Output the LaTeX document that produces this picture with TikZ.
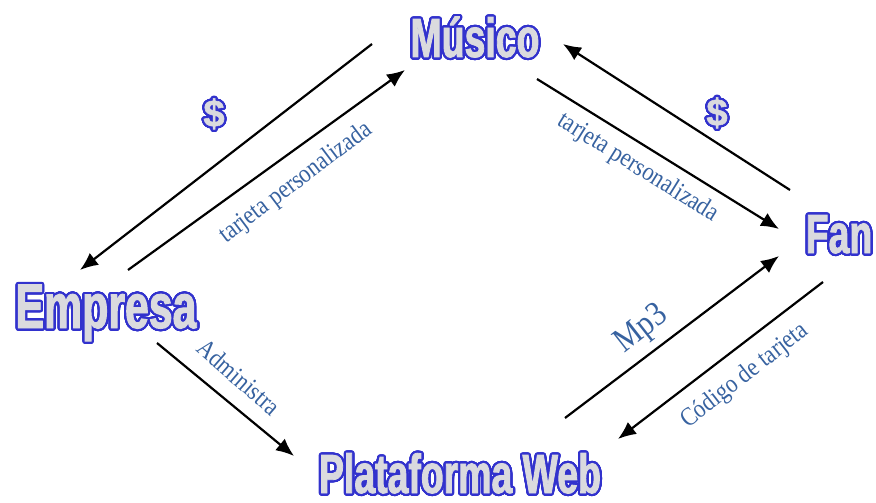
\documentclass[tikz,border=0pt]{standalone}
\usepackage{fontspec}
\usepackage{contour}
\usetikzlibrary{arrows.meta}
\newfontfamily\titulofont[FakeStretch=0.68, FakeBold=1.5]{Liberation Sans Bold}
\newfontfamily\dinerofont[FakeBold=1.5]{Liberation Sans Bold}
\newfontfamily\etiquetafont[FakeStretch=0.86]{Liberation Serif}
\definecolor{azultitulo}{RGB}{50,50,205}
\definecolor{grisrelleno}{RGB}{218,218,222}
\definecolor{azuletiqueta}{RGB}{55,98,160}
\contourlength{2.2pt}
\contournumber{40}
\newcommand{\titulo}[1]{\contour{azultitulo}{\textcolor{grisrelleno}{#1}}}
\tikzset{
  actor/.style = {anchor=base, inner sep=0pt, font=\titulofont\fontsize{55}{55}\selectfont},
  dinero/.style = {inner sep=0pt, font=\dinerofont\fontsize{38}{38}\selectfont},
  etiqueta/.style = {inner sep=0pt, text=azuletiqueta, font=\etiquetafont\fontsize{26}{26}\selectfont},
  flecha/.style = {-{Latex[length=18pt,width=15pt]}, line width=2.2pt}
}
\begin{document}
\begin{tikzpicture}[x=1pt, y=-1pt]
\useasboundingbox (0,0) rectangle (876,503);
% actores
\node [actor] (musico) at (475,57) {\titulo{Músico}};
\node [actor] (fan) at (839,253) {\titulo{Fan}};
\node [actor, font=\titulofont\fontsize{63}{63}\selectfont] (empresa) at (106,328) {\titulo{Empresa}};
\node [actor] (web) at (460,493) {\titulo{Plataforma Web}};
% extremos de las flechas
\coordinate (m1) at (372,44);  \coordinate (e1) at (80,270);
\coordinate (e2) at (128,270); \coordinate (m2) at (405,70);
\coordinate (m3) at (537,79);  \coordinate (f3) at (779,229);
\coordinate (f4) at (790,190); \coordinate (m4) at (563,44);
\coordinate (e5) at (157,343); \coordinate (w5) at (294,456);
\coordinate (w6) at (565,418); \coordinate (f6) at (779,256);
\coordinate (f7) at (823,282); \coordinate (w7) at (618,439);
\draw [flecha] (m1) -- (e1);
\draw [flecha] (e2) -- (m2);
\draw [flecha] (m3) -- (f3);
\draw [flecha] (f4) -- (m4);
\draw [flecha] (e5) -- (w5);
\draw [flecha] (w6) -- (f6);
\draw [flecha] (f7) -- (w7);
% etiquetas
\node [dinero] (pago1) at (214,115) {\titulo{\$}};
\node [dinero] (pago2) at (717,114) {\titulo{\$}};
\node [etiqueta, rotate=37] (tarjeta1) at (296,183) {tarjeta personalizada};
\node [etiqueta, rotate=-32] (tarjeta2) at (638,168) {tarjeta personalizada};
\node [etiqueta, rotate=-41] (admin) at (239,377) {Administra};
\node [etiqueta, rotate=38, font=\etiquetafont\fontsize{35}{35}\selectfont] (mp3) at (642,330) {Mp3};
\node [etiqueta, rotate=38] (codigo) at (745,376) {Código de tarjeta};
\end{tikzpicture}
\end{document}
